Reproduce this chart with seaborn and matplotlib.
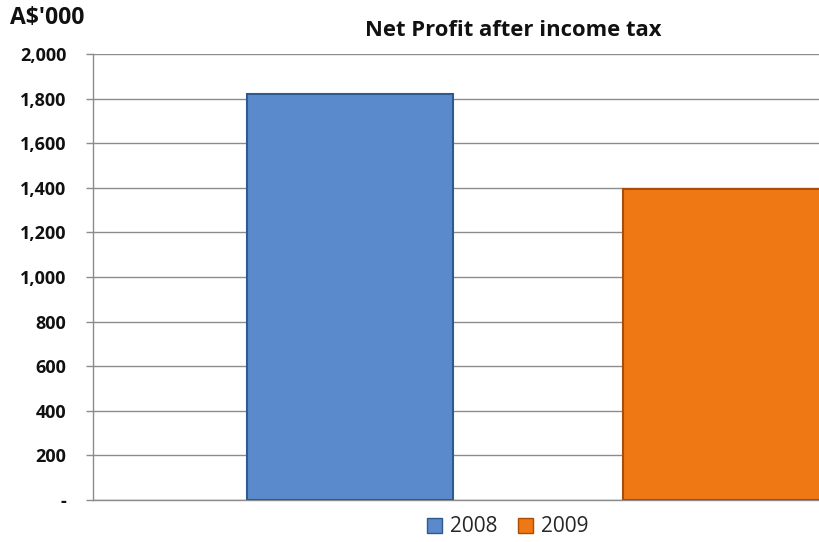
import matplotlib
matplotlib.use("Agg")
import matplotlib.pyplot as plt
import seaborn as sns
import pandas as pd
from matplotlib.patches import Patch
from matplotlib.ticker import FixedLocator, FixedFormatter

years = ["2008", "2009"]
values = [1820, 1395]
colors = ["#5A8ACB", "#F07814"]
edge_colors = ["#2F5A8F", "#A84E08"]
yticks = [0, 200, 400, 600, 800, 1000, 1200, 1400, 1600, 1800, 2000]
ytick_labels = ["-", "200", "400", "600", "800", "1,000", "1,200", "1,400", "1,600", "1,800", "2,000"]
title = "Net Profit after income tax"
unit_label = "A$'000"

sns.set_theme(style="white")
plt.rcParams["font.family"] = ["Open Sans", "DejaVu Sans"]

df = pd.DataFrame({"year": years, "value": values})

fig = plt.figure(figsize=(8.2, 5.42), dpi=100)
ax = fig.add_axes([93 / 820, 1 - 500 / 542, 1 - 93 / 820, (500 - 54) / 542])

sns.barplot(data=df, x="year", y="value", hue="year", palette=colors,
            width=0.548, legend=False, ax=ax, zorder=3, saturation=1)
for p, ec in zip(ax.patches, edge_colors):
    p.set_edgecolor(ec)
    p.set_linewidth(1.5)

ax.set_xlim(-0.683, 1.25)
ax.set_ylim(0, 2000)
ax.yaxis.set_major_locator(FixedLocator(yticks))
ax.yaxis.set_major_formatter(FixedFormatter(ytick_labels))
ax.grid(axis="y", color="#8C8C8C", linewidth=1.0, zorder=0)
ax.set_axisbelow(True)
ax.set_xticks([])
ax.set_xlabel("")
ax.set_ylabel("")
for s in ["top", "right"]:
    ax.spines[s].set_visible(False)
for s in ["left", "bottom"]:
    ax.spines[s].set_color("#8C8C8C")
    ax.spines[s].set_linewidth(1.0)
ax.tick_params(axis="y", which="major", left=True, length=5, width=1,
               color="#8C8C8C", pad=14, labelsize=13)
for lbl in ax.get_yticklabels():
    lbl.set_fontweight("bold")
    lbl.set_color("#111111")

fig.text(513 / 820, 1 - 30 / 542, title, ha="center", va="center",
         fontsize=15.8, fontweight="bold", color="#111111")
fig.text(10 / 820, 1 - 18 / 542, unit_label, ha="left", va="center",
         fontsize=16.5, fontweight="bold", color="#111111")

handles = [Patch(facecolor=c, edgecolor=e, label=y) for y, c, e in zip(years, colors, edge_colors)]
fig.legend(handles=handles, loc="center", bbox_to_anchor=(508 / 820, 1 - 527 / 542),
           ncol=2, frameon=False, fontsize=15, handlelength=0.7, handleheight=0.7,
           handletextpad=0.4, columnspacing=1.0)

fig.savefig("out.png", dpi=100, facecolor="white")
